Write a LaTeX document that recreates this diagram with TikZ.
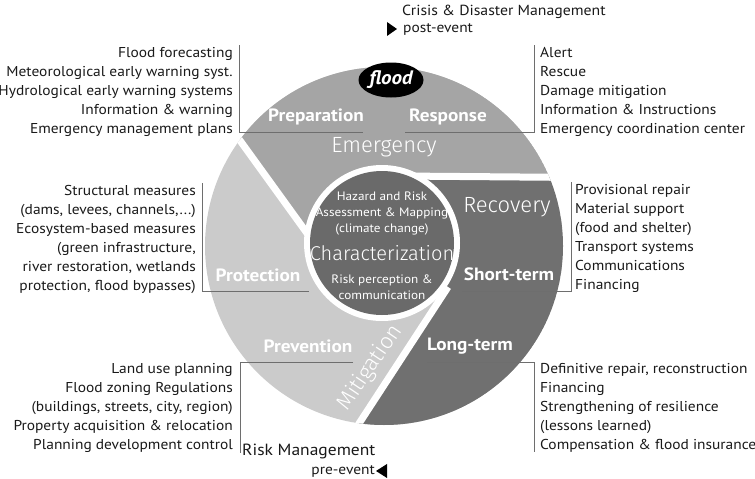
\documentclass[tikz,border=0pt]{standalone}
\usepackage{fontspec}
\setmainfont{PT Sans}[FakeStretch=1.08]
\newfontfamily\lightfont{Fira Sans Light}
\usetikzlibrary{shapes.geometric}
\definecolor{segtop}{RGB}{165,165,165}
\definecolor{segleft}{RGB}{203,203,203}
\definecolor{segright}{RGB}{112,112,112}
\definecolor{core}{RGB}{106,106,106}
\definecolor{rule}{RGB}{110,110,110}
\definecolor{ink}{RGB}{25,25,25}

\tikzset{
  list/.style={inner sep=0pt, text=ink, font=\fontsize{14.3}{19}\selectfont},
  phase/.style={inner sep=0pt, text=white, font=\bfseries\fontsize{17.8}{20}\selectfont},
  stage/.style={inner sep=0pt, text=white, font=\lightfont\fontsize{22}{24}\selectfont},
  coretext/.style={inner sep=0pt, text=white, align=center, font=\fontsize{12.2}{16}\selectfont},
  headline/.style={inner sep=0pt, text=ink, font=\fontsize{16.2}{20}\selectfont},
  bracket/.style={rule, line width=0.9pt},
  gap/.style={white, line width=7pt},
}

\begin{document}
\begin{tikzpicture}[x=1pt,y=-1pt]
  \useasboundingbox (0,0) rectangle (755,479);
  % wheel
  \coordinate (O) at (384,246);
  \coordinate (C) at (382,243);
  \coordinate (g1a) at (124,-20);
  \coordinate (g1b) at (330,265);
  \coordinate (g2a) at (400,176);
  \coordinate (g2b) at (640,178);
  \coordinate (g3a) at (244,600);
  \coordinate (g3b) at (448,287);
  \begin{scope}
    \clip (O) circle [radius=179];
    \fill[segleft] (O) circle [radius=179];
    \fill[segtop] (g1a) -- (g1b) -- (C) -- (g2a) -- (g2b) -- (640,-20) -- cycle;
    \fill[segright] (g2a) -- (g2b) -- (640,600) -- (g3a) -- (g3b) -- (C) -- cycle;
    \draw[gap] (g1a) -- (g1b);
    \draw[gap] (g2a) -- (g2b);
    \draw[gap] (g3a) -- (g3b);
  \end{scope}
  \fill[white] (C) circle [radius=78];
  \fill[core] (C) circle [radius=72];

  % flood
  \node[ellipse, fill=black, minimum width=65pt, minimum height=35pt, inner sep=0pt,
        text=white, font=\bfseries\itshape\fontsize{19.5}{21}\selectfont] (flood) at (391,80) {flood};

  % segment labels
  \node[phase] (prep) at (316,117) {Preparation};
  \node[phase] (resp) at (448,117) {Response};
  \node[stage] (emer) at (384,147) {Emergency};
  \node[stage] (reco) at (507,207) {Recovery};
  \node[phase] (short) at (509,274) {Short-term};
  \node[phase] (prot) at (258,275) {Protection};
  \node[phase] (prev) at (308,346) {Prevention};
  \node[phase] (long) at (470,346) {Long-term};
  \node[stage, rotate=56] (miti) at (370,368) {Mitigation};

  % core
  \node[coretext] (haz) at (382,214) {Hazard and Risk\\Assessment \& Mapping\\(climate change)};
  \node[stage, font=\lightfont\fontsize{20}{22}\selectfont] (char) at (382,253) {Characterization};
  \node[coretext] (perc) at (382,287) {Risk perception \&\\communication};

  % measures
  \node[list, align=right, anchor=north east] (preplist) at (233,47)
    {Flood forecasting\\Meteorological early warning syst.\\Hydrological early warning systems\\Information \& warning\\Emergency management plans};
  \node[list, align=left, anchor=north west] (resplist) at (540,47)
    {Alert\\Rescue\\Damage mitigation\\Information \& Instructions\\Emergency coordination center};
  \node[list, align=right, anchor=north east] (protlist) at (196,185)
    {Structural measures\\(dams, levees, channels,...)\\Ecosystem-based measures\\(green infrastructure,\\river restoration, wetlands\\protection, flood bypasses)};
  \node[list, align=left, anchor=north west] (shortlist) at (575,184)
    {Provisional repair\\Material support\\(food and shelter)\\Transport systems\\Communications\\Financing};
  \node[list, align=right, anchor=north east] (prevlist) at (233,363)
    {Land use planning\\Flood zoning Regulations\\(buildings, streets, city, region)\\Property acquisition \& relocation\\Planning development control};
  \node[list, align=left, anchor=north west] (longlist) at (540,363)
    {Definitive repair, reconstruction\\Financing\\Strengthening of resilience\\(lessons learned)\\Compensation \& flood insurance};

  % brackets
  \coordinate (prepend) at (363,132);
  \coordinate (respend) at (405,132);
  \coordinate (protend) at (309,291);
  \coordinate (shortend) at (462,291);
  \coordinate (prevend) at (353,362);
  \coordinate (longend) at (427,362);
  \draw[bracket] ([xshift=6pt,yshift=2pt]preplist.north east) |- (prepend);
  \draw[bracket] ([xshift=-6pt,yshift=2pt]resplist.north west) |- (respend);
  \draw[bracket] ([xshift=6pt,yshift=2pt]protlist.north east) |- (protend);
  \draw[bracket] ([xshift=-4pt,yshift=2pt]shortlist.north west) |- (shortend);
  \draw[bracket] (prevend) -| ([xshift=7pt]prevlist.south east);
  \draw[bracket] (longend) -| ([xshift=-6pt]longlist.south west);

  % headings
  \node[headline, font=\fontsize{14.6}{18}\selectfont, anchor=base west] (crisis) at (402,15) {Crisis \& Disaster Management};
  \node[list, anchor=base west] (post) at (403,32) {post-event};
  \fill[black] ([xshift=-6pt]post.west) -- ++(-10,-7) -- ++(0,14) -- cycle;
  \node[headline, anchor=base west] (risk) at (242,455) {Risk Management};
  \node[list, anchor=base east] (pre) at (375,474) {pre-event};
  \fill[black] ([xshift=1pt]pre.east) -- ++(11,-7) -- ++(0,14) -- cycle;
\end{tikzpicture}
\end{document}
